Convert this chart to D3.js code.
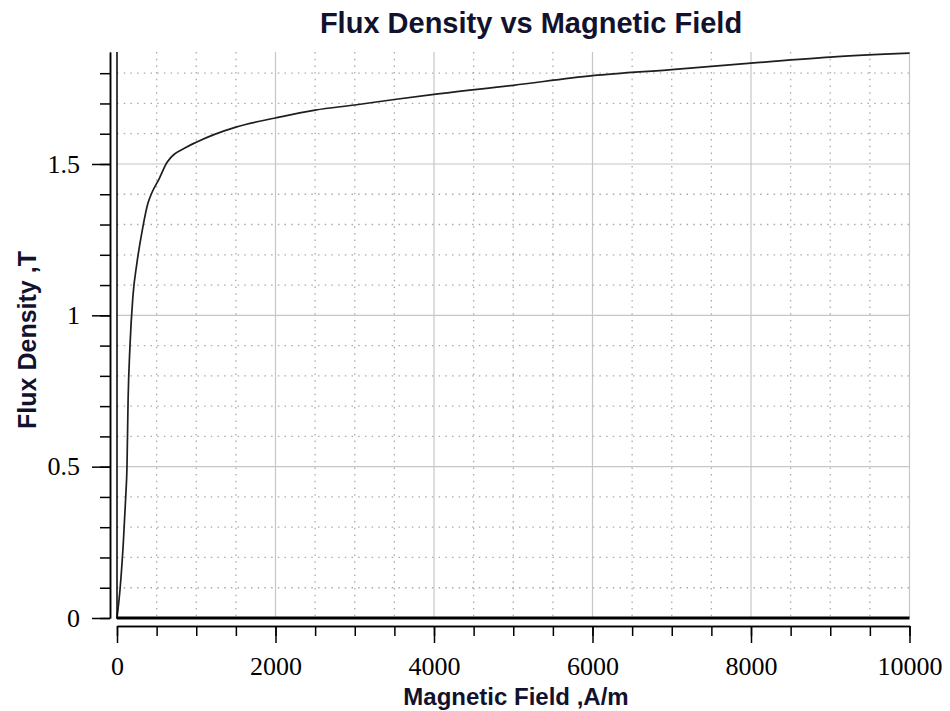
<!DOCTYPE html>
<html>
<head>
<meta charset="utf-8">
<script src="https://cdn.jsdelivr.net/npm/d3@7"></script>
<style>
  body { margin: 0; background: #fff; }
  .tick text { font-family: "Liberation Serif", serif; font-size: 26px; fill: #000; }
</style>
</head>
<body>
<div id="chart"></div>
<script>
// B-H curve
const fieldH = [0, 40, 80, 110, 126, 140, 164, 200, 250, 325, 390, 440, 530, 630, 880, 1000,
                1500, 2000, 2500, 3000, 3500, 4000, 5000, 6000, 7000, 8000, 9000, 10000]
const fluxB = [0, 0.1, 0.25, 0.4, 0.5, 0.72, 0.9, 1.06, 1.17, 1.29, 1.37, 1.405, 1.45, 1.505, 1.556, 1.572,
               1.622, 1.652, 1.678, 1.695, 1.713, 1.73, 1.76, 1.792, 1.812, 1.833, 1.853, 1.866]

const xMajor = [0, 2000, 4000, 6000, 8000, 10000]
const xMinor = d3.range(0, 10001, 500)
const yMajor = [0, 0.5, 1, 1.5]
const yMinor = [0, 0.1, 0.2, 0.3, 0.4, 0.5, 0.6, 0.7, 0.8, 0.9, 1, 1.1, 1.2, 1.3, 1.4, 1.5, 1.6, 1.7, 1.8]

const W = 950, H = 711
const plot = {left: 117, right: 909.5, top: 52, bottom: 618}
const svg = d3.select("#chart").append("svg").attr("width", W).attr("height", H)

const x = d3.scaleLinear().domain([0, 10000]).range([plot.left, plot.right])
const y = d3.scaleLinear().domain([0, 1.87]).range([plot.bottom, plot.top])

// grid - dotted minor first, then solid major
const grid = svg.append("g")
grid.selectAll(".vmin").data(xMinor.filter(d => d % 2000 != 0)).join("line")
  .attr("x1", d => x(d)).attr("x2", d => x(d)).attr("y1", plot.top).attr("y2", plot.bottom)
  .attr("stroke", "#aaa").attr("stroke-width", 1.3).attr("stroke-dasharray", "1.5,5.2")
grid.selectAll(".hmin").data(yMinor.filter(d => Math.round(d * 10) % 5 != 0)).join("line")
  .attr("x1", plot.left).attr("x2", plot.right).attr("y1", d => y(d)).attr("y2", d => y(d))
  .attr("stroke", "#aaa").attr("stroke-width", 1.3).attr("stroke-dasharray", "1.5,5.2")
grid.selectAll(".vmaj").data(xMajor.slice(1)).join("line")
  .attr("x1", d => x(d)).attr("x2", d => x(d)).attr("y1", plot.top).attr("y2", plot.bottom)
  .attr("stroke", "#c6c6c6").attr("stroke-width", 1.2)
grid.selectAll(".hmaj").data(yMajor.slice(1)).join("line")
  .attr("x1", plot.left).attr("x2", plot.right).attr("y1", d => y(d)).attr("y2", d => y(d))
  .attr("stroke", "#c6c6c6").attr("stroke-width", 1.2)

// curve
const pts = fieldH.map((h, i) => [h, fluxB[i]])
svg.append("path").datum(pts)
  .attr("d", d3.line().x(d => x(d[0])).y(d => y(d[1])).curve(d3.curveMonotoneX))
  .attr("fill", "none").attr("stroke", "#1e1e1e").attr("stroke-width", 1.7)

// plot frame (left + bottom)
svg.append("line").attr("x1", plot.left).attr("x2", plot.left).attr("y1", plot.top).attr("y2", plot.bottom + 1)
  .attr("stroke", "#000").attr("stroke-width", 1.5)
svg.append("line").attr("x1", plot.left).attr("x2", plot.right).attr("y1", plot.bottom).attr("y2", plot.bottom)
  .attr("stroke", "#000").attr("stroke-width", 3)

// y axis, offset to the left
const yAx = svg.append("g").attr("transform", "translate(110,0)")
yAx.append("g").call(d3.axisLeft(y).tickValues(yMinor).tickSize(10).tickSizeOuter(0).tickFormat(""))
yAx.append("g").call(d3.axisLeft(y).tickValues(yMajor).tickSize(18).tickSizeOuter(0).tickPadding(12).tickFormat(d3.format("")))
yAx.selectAll("line, path").attr("stroke", "#000").attr("stroke-width", 1.5)

// x axis, below the frame
const xAx = svg.append("g").attr("transform", "translate(0,626)")
xAx.append("g").call(d3.axisBottom(x).tickValues(xMinor).tickSize(10).tickSizeOuter(0).tickFormat(""))
xAx.append("g").call(d3.axisBottom(x).tickValues(xMajor).tickSize(17).tickSizeOuter(0).tickPadding(14).tickFormat(d3.format("d")))
xAx.selectAll("line, path").attr("stroke", "#000").attr("stroke-width", 1.5)

// titles
svg.append("text").attr("x", 531).attr("y", 33).attr("text-anchor", "middle")
  .attr("font-family", "Liberation Sans, Arial").attr("font-weight", "bold").attr("font-size", 29)
  .attr("fill", "#12122e").text("Flux Density vs Magnetic Field")
svg.append("text").attr("x", 516).attr("y", 705).attr("text-anchor", "middle")
  .attr("font-family", "Liberation Sans, Arial").attr("font-weight", "bold").attr("font-size", 24)
  .attr("fill", "#12122e").text("Magnetic Field ,A/m")
svg.append("text").attr("transform", "translate(36,340) rotate(-90)").attr("text-anchor", "middle")
  .attr("font-family", "Liberation Sans, Arial").attr("font-weight", "bold").attr("font-size", 25)
  .attr("fill", "#12122e").text("Flux Density ,T")
</script>
</body>
</html>
